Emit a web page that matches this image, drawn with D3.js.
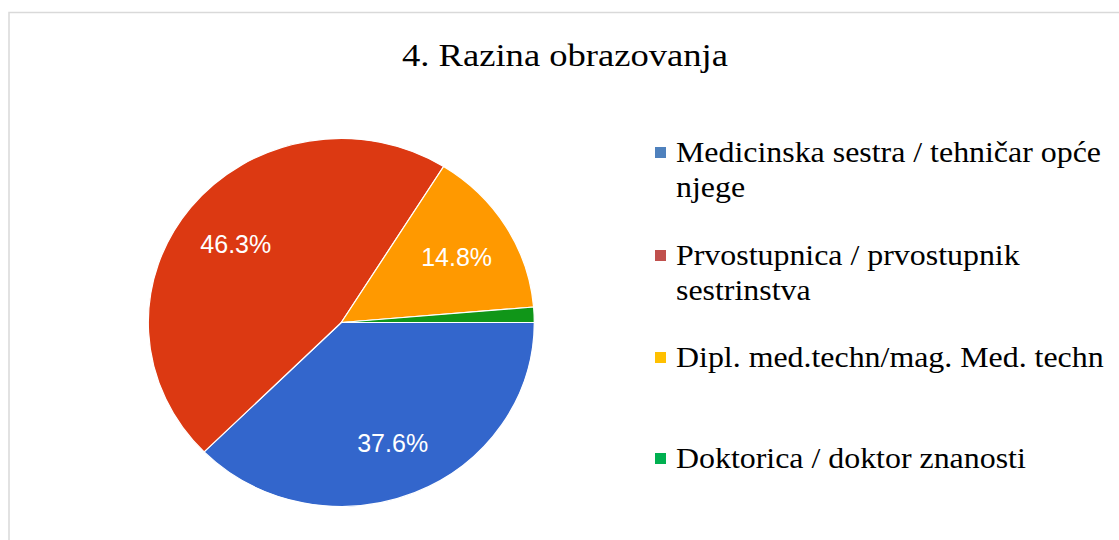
<!DOCTYPE html>
<html>
<head>
<meta charset="utf-8">
<script src="https://cdn.jsdelivr.net/npm/d3@7"></script>
<style>
  html, body { margin: 0; padding: 0; background: #fff; }
  svg { display: block; }
</style>
</head>
<body>
<svg id="chart" width="1119" height="540"></svg>
<script>
const title = "4. Razina obrazovanja";
const categories = [
  "Medicinska sestra / tehničar opće njege",
  "Prvostupnica / prvostupnik sestrinstva",
  "Dipl. med.techn/mag. Med. techn",
  "Doktorica / doktor znanosti"
];
const legendLines = [
  ["Medicinska sestra / tehničar opće", "njege"],
  ["Prvostupnica / prvostupnik", "sestrinstva"],
  ["Dipl. med.techn/mag. Med. techn"],
  ["Doktorica / doktor znanosti"]
];
const values = [56, 69, 22, 2];
const sliceColors = ["#3366cc", "#dc3912", "#ff9900", "#109618"];
const legendColors = ["#4f81bd", "#c0504d", "#ffc000", "#00b050"];

const svg = d3.select("#chart");

// border (top and left only visible)
svg.append("path")
  .attr("d", "M9,540 L9,12.5 L1119,12.5")
  .attr("fill", "none")
  .attr("stroke", "#d9d9d9")
  .attr("stroke-width", 1.5);

svg.append("text")
  .attr("transform", "translate(565,66) scale(1.18,1)")
  .attr("text-anchor", "middle")
  .attr("font-family", "'Liberation Serif', 'Times New Roman', serif")
  .attr("font-size", 31)
  .attr("fill", "#000")
  .text(title);

const cx = 341.3, cy = 322.5, r = 184, sx = 193 / 184;
const total = d3.sum(values);
const pie = d3.pie().sort(null).startAngle(Math.PI / 2).endAngle(Math.PI / 2 + 2 * Math.PI);
const arcs = pie(values);
const arc = d3.arc().innerRadius(0).outerRadius(r);

const g = svg.append("g").attr("transform", `translate(${cx},${cy}) scale(${sx},1)`);
g.selectAll("path")
  .data(arcs)
  .join("path")
  .attr("d", arc)
  .attr("fill", (d, i) => sliceColors[i])
  .attr("stroke", "#fff")
  .attr("stroke-width", 1.2)
  .attr("stroke-linejoin", "round");

const labelArc = d3.arc().innerRadius(r * 0.7).outerRadius(r * 0.7);
svg.append("g")
  .selectAll("text")
  .data(arcs.filter(d => d.value / total > 0.05))
  .join("text")
  .attr("x", d => cx + labelArc.centroid(d)[0] * sx)
  .attr("y", d => cy + labelArc.centroid(d)[1] + 1.5)
  .attr("dy", "0.36em")
  .attr("text-anchor", "middle")
  .attr("font-family", "'Liberation Sans', Arial, sans-serif")
  .attr("font-size", 25)
  .attr("fill", "#fff")
  .text(d => (d.value / total * 100).toFixed(1) + "%");

// legend
const legendY = [162, 265, 367, 468];
const lg = svg.append("g");
legendLines.forEach((lines, i) => {
  const y0 = legendY[i];
  lg.append("rect")
    .attr("x", 655).attr("y", y0 - 15)
    .attr("width", 11).attr("height", 11)
    .attr("fill", legendColors[i]);
  lines.forEach((t, j) => {
    lg.append("text")
      .attr("transform", `translate(676,${y0 + j * 35}) scale(1.1,1)`)
      .attr("font-family", "'Liberation Serif', 'Times New Roman', serif")
      .attr("font-size", 29)
      .attr("fill", "#000")
      .text(t);
  });
});
</script>
</body>
</html>
